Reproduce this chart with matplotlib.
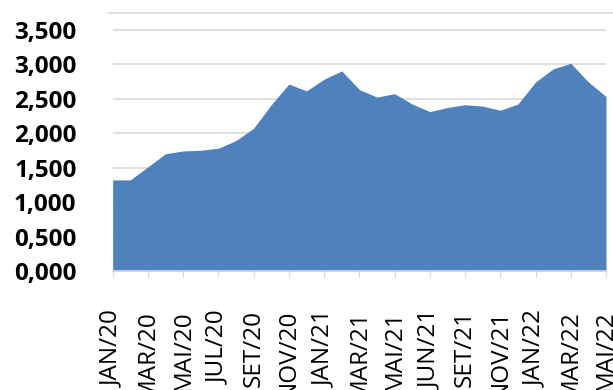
import matplotlib
matplotlib.use("Agg")
import matplotlib.pyplot as plt
from matplotlib.lines import Line2D
import numpy as np

months = ["JAN/20", "FEV/20", "MAR/20", "ABR/20", "MAI/20", "JUN/20", "JUL/20", "AGO/20",
          "SET/20", "OUT/20", "NOV/20", "DEZ/20", "JAN/21", "FEV/21", "MAR/21", "ABR/21",
          "MAI/21", "JUN/21", "JUL/21", "AGO/21", "SET/21", "OUT/21", "NOV/21", "DEZ/21",
          "JAN/22", "FEV/22", "MAR/22", "ABR/22", "MAI/22"]
values = [1.32, 1.32, 1.51, 1.70, 1.74, 1.75, 1.78, 1.89, 2.07, 2.41, 2.71, 2.61, 2.78, 2.90,
          2.63, 2.52, 2.57, 2.42, 2.31, 2.37, 2.41, 2.39, 2.33, 2.42, 2.74, 2.93, 3.01, 2.74, 2.53]
tick_labels = ["JAN/20", "MAR/20", "MAI/20", "JUL/20", "SET/20", "NOV/20", "JAN/21", "MAR/21",
               "MAI/21", "JUN/21", "SET/21", "NOV/21", "JAN/22", "MAR/22", "MAI/22"]
y_ticks = [0.0, 0.5, 1.0, 1.5, 2.0, 2.5, 3.0, 3.5]

plt.rcParams['font.family'] = ['Open Sans', 'DejaVu Sans']

fig = plt.figure(figsize=(6.13, 3.9), dpi=100)
ax = fig.add_axes([0.1838, 0.3051, 0.8048, 0.6608])

x = np.arange(len(values))
ax.fill_between(x, values, 0, color="#4F81BD", linewidth=0, zorder=2)

ax.set_xlim(0, len(values) - 1)
ax.set_ylim(0, 3.735)
ax.set_yticks(y_ticks)
ax.set_yticklabels([f"{v:.3f}".replace(".", ",") for v in y_ticks],
                   fontsize=17.5, fontweight="bold")
ax.tick_params(axis="y", length=0, pad=26)
ax.set_xticks(x[::2])
ax.set_xticklabels(tick_labels, rotation=90, fontsize=17.5, va="top", ha="center")
ax.tick_params(axis="x", length=4, color="#D9D9D9", pad=24)

ax.yaxis.grid(True, color="#D9D9D9", linewidth=1.2, zorder=0)
ax.set_axisbelow(True)
for s in ["left", "right", "top"]:
    ax.spines[s].set_visible(False)
ax.spines["bottom"].set_color("#D9D9D9")
ax.spines["bottom"].set_linewidth(1.2)

# top frame line
fig.add_artist(Line2D([109 / 613, 1.0], [1 - 13.3 / 390, 1 - 13.3 / 390],
                      color="#D9D9D9", linewidth=1.2))

fig.savefig("out.png", dpi=100)
